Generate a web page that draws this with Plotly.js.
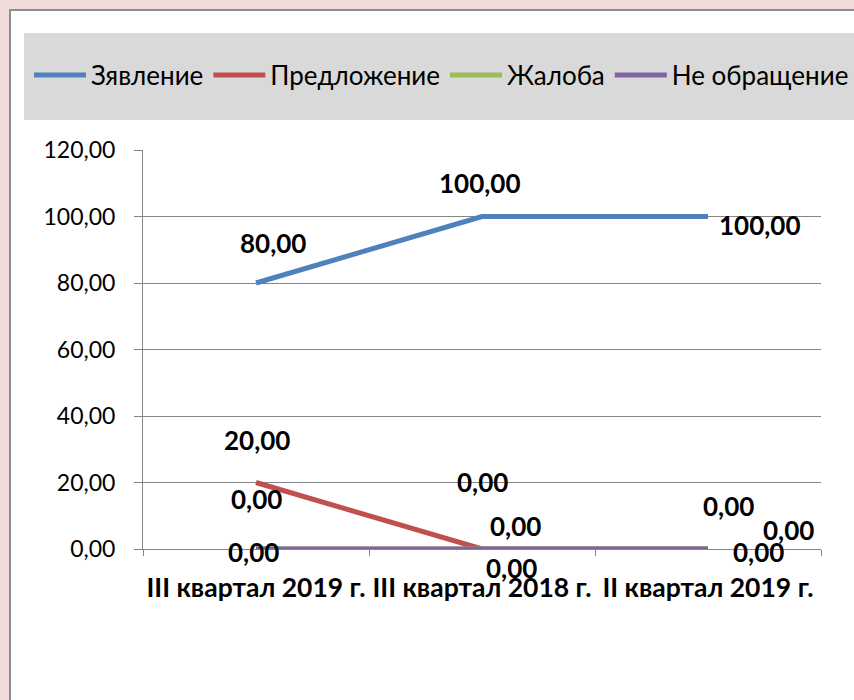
<!DOCTYPE html>
<html>
<head>
<meta charset="utf-8">
<script src="https://cdn.plot.ly/plotly-3.0.1.min.js"></script>
<style>html,body{margin:0;padding:0;background:#f2dcdb;}#chart{width:854px;height:700px;}</style>
</head>
<body>
<div id="chart"></div>
<script>
const categories = ['III квартал 2019 г.', 'III квартал 2018 г.', 'II квартал 2019 г.'];
const seriesNames = ['Зявление', 'Предложение', 'Жалоба', 'Не обращение'];
const zayavlenie = [80, 100, 100];
const predlozhenie = [20, 0, 0];
const zhaloba = [0, 0, 0];
const neObrashchenie = [0, 0, 0];
const yTicks = [0, 20, 40, 60, 80, 100, 120];

const colors = ['#4f81bd', '#c0504d', '#9bbb59', '#8064a2'];
const allValues = [zayavlenie, predlozhenie, zhaloba, neObrashchenie];
// label offsets (styling only, px): [xshift, yshift]
const labelShifts = [
  [[17, 40], [-3, 34], [51, -8]],
  [[1, 43], [29, -19], [50, -3]],
  [[0, 50], [0, 67], [20, 43]],
  [[-3, -3], [33, 23], [80, 19]]
];
const fmt = v => v.toFixed(2).replace('.', ',');
const FONT = 'Lato, "Open Sans", sans-serif';

const traces = allValues.map((vals, k) => ({
  type: 'scatter', mode: 'lines', name: seriesNames[k],
  x: categories, y: vals,
  line: {color: colors[k], width: 5},
  hoverinfo: 'skip'
}));

const annotations = [];
allValues.forEach((vals, k) => {
  vals.forEach((v, i) => {
    annotations.push({
      x: categories[i], y: v, xref: 'x', yref: 'y', text: fmt(v), showarrow: false,
      xshift: labelShifts[k][i][0], yshift: labelShifts[k][i][1],
      font: {family: FONT, size: 26, color: '#000', weight: 'bold'}
    });
  });
});

const L = 143, R = 821, T = 150, B = 549;
const px = p => (p - L) / (R - L);
const py = p => (B - p) / (B - T);

const layout = {
  width: 854, height: 700,
  margin: {l: L, r: 854 - R, t: T, b: 700 - B},
  paper_bgcolor: '#f2dcdb',
  plot_bgcolor: 'rgba(0,0,0,0)',
  separators: ', ',
  font: {family: FONT, size: 24, color: '#000'},
  showlegend: true,
  legend: {
    orientation: 'h', x: px(32), y: py(75), xanchor: 'left', yanchor: 'middle',
    bgcolor: 'rgba(0,0,0,0)', font: {family: FONT, size: 26, color: '#000'},
    itemwidth: 52, tracegroupgap: 0
  },
  xaxis: {
    type: 'category', range: [-0.5, 2.5],
    showgrid: false, showline: true, linecolor: '#868686', linewidth: 1,
    ticks: 'outside', ticklen: 6, tickcolor: '#868686', tickson: 'boundaries',
    tickangle: 0,
    tickfont: {family: FONT, size: 26.5, color: '#000', weight: 'bold'},
    ticklabelstandoff: 15, fixedrange: true
  },
  yaxis: {
    range: [0, 120], tickvals: yTicks, tickformat: '.2f',
    showgrid: true, gridcolor: '#868686', gridwidth: 1,
    showline: true, linecolor: '#868686', linewidth: 1,
    ticks: 'outside', ticklen: 8, tickcolor: '#868686',
    tickfont: {family: FONT, size: 23, color: '#000'},
    ticklabelstandoff: 14, zeroline: false, fixedrange: true
  },
  shapes: [
    {type: 'rect', xref: 'paper', yref: 'paper', layer: 'below',
     x0: px(10), x1: px(900), y0: py(720), y1: py(10),
     fillcolor: '#ffffff', line: {color: '#8c8c8c', width: 2}},
    {type: 'rect', xref: 'paper', yref: 'paper', layer: 'below',
     x0: px(24), x1: px(900), y0: py(120), y1: py(33),
     fillcolor: '#d9d9d9', line: {width: 0}}
  ],
  annotations: annotations
};

Plotly.newPlot('chart', traces, layout, {displayModeBar: false, staticPlot: true});
</script>
</body>
</html>
